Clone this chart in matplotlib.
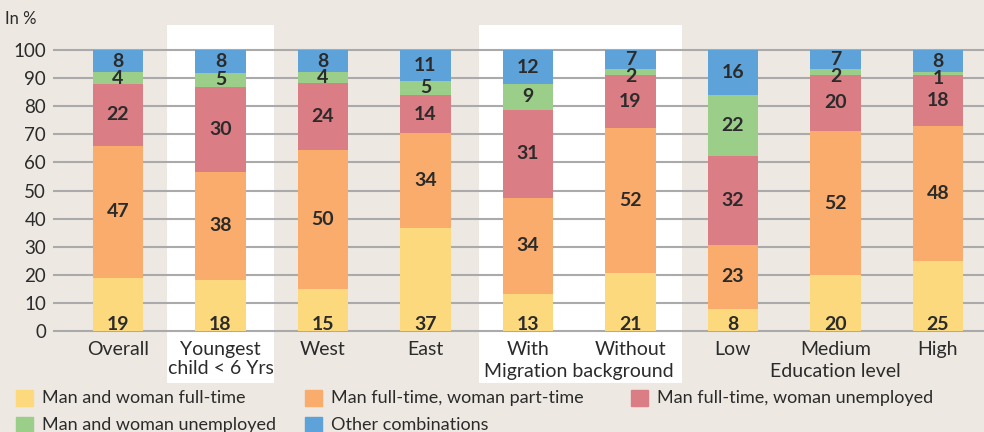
import numpy as np
import matplotlib.pyplot as plt
from matplotlib.patches import Rectangle

# Working arrangements of couples, share in percent (rows normalised to 100)

categories = ["Overall", "Youngest\nchild < 6 Yrs", "West", "East", "With", "Without",
              "Low", "Medium", "High"]
groups = [("Migration background", 4.5), ("Education level", 7)]

series = ["Man and woman full-time", "Man full-time, woman part-time",
          "Man full-time, woman unemployed", "Man and woman unemployed",
          "Other combinations"]
colors = ["#FDD97E", "#F9AC6B", "#DB7D84", "#9ACE89", "#5DA3D9"]

both_full = [19, 18, 15, 37, 13, 21, 8, 20, 25]
woman_part = [47, 38, 50, 34, 34, 52, 23, 52, 48]
woman_unemp = [22, 30, 24, 14, 31, 19, 32, 20, 18]
both_unemp = [4, 5, 4, 5, 9, 2, 22, 2, 1]
other = [8, 8, 8, 11, 12, 7, 16, 7, 8]

values = np.array([both_full, woman_part, woman_unemp, both_unemp, other], dtype=float)
shares = values / values.sum(axis=0) * 100

bg = "#EDE8E1"
txt = "#2b2b2b"
plt.rcParams['font.family'] = ['Lato', 'DejaVu Sans']

W, H = 984, 432
fig = plt.figure(figsize=(W / 100, H / 100), dpi=100, facecolor=bg)

# axes box in pixels: x 53..984, y 25..383
ymin, ymax = -18.5, 108.9
ax = fig.add_axes([53 / W, 1 - 383 / H, (W - 53) / W, (383 - 25) / H])
ax.set_facecolor(bg)
x = np.arange(len(categories))
ax.set_xlim(-0.634, 8.449)
ax.set_ylim(ymin, ymax)

# white highlight bands
ax.axvspan(0.48, 1.52, color="white", zorder=0, lw=0)
ax.axvspan(3.52, 5.5, color="white", zorder=0, lw=0)

ax.set_yticks(range(0, 101, 10))
ax.yaxis.grid(True, color="#AAAAAA", lw=1.5, zorder=1)
ax.set_axisbelow(True)
ax.tick_params(axis="y", length=0, pad=5, labelsize=13.5, labelcolor=txt)
ax.set_xticks([])
for s in ax.spines.values():
    s.set_visible(False)

bottom = np.zeros(len(categories))
for i in range(len(series)):
    ax.bar(x, shares[i], 0.49, bottom=bottom, color=colors[i], zorder=2)
    for j in range(len(categories)):
        if i == 0:
            ypos = 2.4
        else:
            ypos = bottom[j] + shares[i][j] / 2
            if shares[i][j] < 3:
                ypos -= 1.6
        ax.text(x[j], ypos, str(int(values[i][j])), ha="center", va="center",
                fontsize=14, fontweight="bold", color=txt, zorder=3)
    bottom += shares[i]

# category labels
for j, c in enumerate(categories):
    ax.text(x[j], -3.5, c, ha="center", va="top", fontsize=14, color=txt,
            linespacing=1.12)
for name, pos in groups:
    ax.text(pos, -11.5, name, ha="center", va="top", fontsize=14, color=txt)

fig.text(5 / W, 1 - 19 / H, "In %", fontsize=12, color=txt, va="center")

# legend, laid out in rows
leg_pos = [(16, 398), (305, 398), (631, 398), (16, 425), (305, 425)]
for (px, py), name, col in zip(leg_pos, series, colors):
    fig.patches.append(Rectangle((px / W, 1 - (py + 8) / H), 17 / W, 16 / H,
                                 transform=fig.transFigure, color=col, figure=fig))
    fig.text((px + 26) / W, 1 - py / H, name, fontsize=13, color=txt, va="center")

fig.savefig("out.png", dpi=100, facecolor=bg)
